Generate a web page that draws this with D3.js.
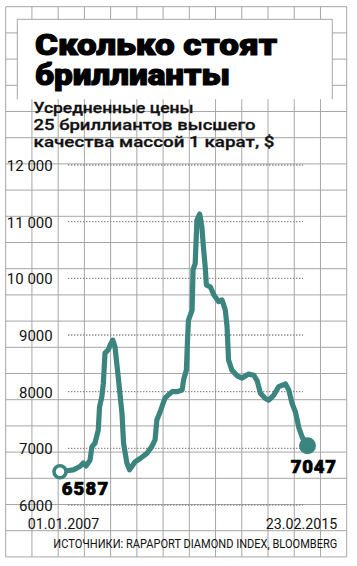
<!DOCTYPE html>
<html>
<head>
<meta charset="utf-8">
<script src="https://cdn.jsdelivr.net/npm/d3@7"></script>
<style>
  html, body { margin: 0; padding: 0; background: #fff; }
  svg { display: block; }
  text { font-family: Roboto, "DejaVu Sans", sans-serif; }
</style>
</head>
<body>
<script>
// ---- data ----
const titleLines = ["Сколько стоят", "бриллианты"];
const subtitleLines = ["Усредненные цены", "25 бриллиантов высшего", "качества массой 1 карат, $"];
const sourceText = "ИСТОЧНИКИ: RAPAPORT DIAMOND INDEX, BLOOMBERG";
const yTicks = [6000, 7000, 8000, 9000, 10000, 11000, 12000];
const xTickLabels = ["01.01.2007", "23.02.2015"];
const dates = [
  "2007-01-01","2007-03-01","2007-06-10","2007-08-28","2007-10-08","2007-11-10","2007-12-28",
  "2008-01-20","2008-02-25","2008-04-05","2008-04-20","2008-05-18","2008-06-05","2008-06-25",
  "2008-08-04","2008-08-25","2008-09-27","2008-10-23","2008-12-01","2009-01-15","2009-02-03",
  "2009-03-15","2009-04-16","2009-06-20","2009-08-22","2009-11-10","2010-01-08","2010-02-17",
  "2010-03-10","2010-04-20","2010-06-17","2010-09-10","2010-11-06","2011-01-08","2011-01-26",
  "2011-02-28","2011-03-14","2011-03-25","2011-05-08","2011-05-19","2011-06-14","2011-07-05",
  "2011-08-07","2011-09-02","2011-09-24","2011-10-12","2011-10-27","2011-12-13","2012-01-23",
  "2012-03-21","2012-05-01","2012-06-10","2012-07-01","2012-07-19","2012-08-28","2012-10-30",
  "2012-12-28","2013-03-18","2013-05-19","2013-06-28","2013-08-07","2013-10-05","2013-11-14",
  "2014-01-15","2014-03-14","2014-06-03","2014-07-13","2014-08-22","2014-10-01","2014-11-10",
  "2014-12-20","2015-02-23"
];
const prices = [
  6587,6600,6620,6680,6740,6690,6790,
  7030,7090,7320,7730,7910,8150,8680,
  8740,8820,8910,8790,8260,7620,7090,
  6740,6620,6760,6820,6910,7030,7150,
  7500,7650,7890,8000,8000,8030,8210,
  8380,8910,9260,9440,10150,10260,11030,
  11135,10910,10500,10210,9880,9850,9710,
  9590,9620,9440,9150,8560,8380,8280,
  8240,8310,8290,8190,7970,7880,7850,
  7940,8090,8135,8030,7790,7640,7370,
  7200,7047
];

// ---- setup ----
const W = 357, H = 566;
const teal = "#3c847e";
const parse = d3.timeParse("%Y-%m-%d");
const data = dates.map((d, i) => ({ date: parse(d), value: prices[i] }));

const svg = d3.select("body").append("svg").attr("width", W).attr("height", H);

// graph-paper background
const gx0 = 5.7, gx1 = 346.7, gy0 = 6.7, gy1 = 556.9;
const nCols = 13, nRows = 21;
const grid = svg.append("g").attr("stroke", "#a6a6a6").attr("stroke-width", 1);
d3.range(nCols + 1).forEach(i => {
  const xx = gx0 + (gx1 - gx0) * i / nCols;
  grid.append("line").attr("x1", xx).attr("x2", xx).attr("y1", gy0).attr("y2", gy1);
});
d3.range(nRows + 1).forEach(i => {
  const yy = gy0 + (gy1 - gy0) * i / nRows;
  grid.append("line").attr("x1", gx0).attr("x2", gx1).attr("y1", yy).attr("y2", yy);
});

// title box
svg.append("rect").attr("x", 17.3).attr("y", 19.3).attr("width", 315).attr("height", 80)
  .attr("fill", "#fff");
svg.append("path").attr("d", "M17.3,99.3V19.3H332.3V99.3")
  .attr("fill", "none").attr("stroke", "#a6a6a6").attr("stroke-width", 1);

const titleY = [55, 85], titleW = [242, 195];
titleLines.forEach((t, i) => {
  svg.append("text").attr("x", 35).attr("y", titleY[i])
    .attr("font-size", 30).attr("font-weight", 900).attr("fill", "#000")
    .attr("stroke", "#000").attr("stroke-width", 1.1).attr("stroke-linejoin", "round")
    .attr("textLength", titleW[i]).attr("lengthAdjust", "spacingAndGlyphs")
    .text(t);
});
const subY = [112.5, 129.5, 146.5], subW = [160, 222, 241];
subtitleLines.forEach((t, i) => {
  svg.append("text").attr("x", 33.5).attr("y", subY[i])
    .attr("font-size", 15.5).attr("font-weight", 500).attr("fill", "#111")
    .attr("stroke", "#111").attr("stroke-width", 0.3)
    .attr("textLength", subW[i]).attr("lengthAdjust", "spacingAndGlyphs")
    .text(t);
});

// scales
const x = d3.scaleTime()
  .domain([parse("2007-01-01"), parse("2015-02-23")])
  .range([60, 307.5]);
const y = d3.scaleLinear().domain([6000, 12000]).range([505, 165]);

// dotted horizontal gridlines
svg.append("g").selectAll("line").data(yTicks).join("line")
  .attr("x1", 68).attr("x2", 303)
  .attr("y1", d => y(d)).attr("y2", d => y(d))
  .attr("stroke", "#8a8a8a").attr("stroke-width", 1.4)
  .attr("stroke-dasharray", "1.4 1.6");

// y axis labels
const yAxis = d3.axisLeft(y).tickValues(yTicks).tickSize(0).tickPadding(0)
  .tickFormat(d => d >= 10000 ? String(d).slice(0, 2) + " " + String(d).slice(2) : String(d));
const ya = svg.append("g").attr("transform", "translate(52.7,0)").call(yAxis);
ya.select(".domain").remove();
ya.selectAll("text").attr("font-size", 15).attr("fill", "#111")
  .attr("font-family", "Roboto, sans-serif").attr("dy", "0.36em");

// x axis labels (first and last date)
svg.append("text").attr("x", 27.7).attr("y", 529).attr("font-size", 14.5).attr("fill", "#111")
  .attr("textLength", 71.5).attr("lengthAdjust", "spacingAndGlyphs")
  .text(xTickLabels[0]);
svg.append("text").attr("x", 265.8).attr("y", 529).attr("font-size", 14.5).attr("fill", "#111")
  .attr("textLength", 71.5).attr("lengthAdjust", "spacingAndGlyphs")
  .text(xTickLabels[1]);

// source
svg.append("text").attr("x", 53.3).attr("y", 548.3).attr("font-size", 12.5).attr("fill", "#111")
  .attr("textLength", 284).attr("lengthAdjust", "spacingAndGlyphs").text(sourceText);

// line
const line = d3.line().x(d => x(d.date)).y(d => y(d.value));
svg.append("path").datum(data).attr("d", line)
  .attr("fill", "none").attr("stroke", teal).attr("stroke-width", 5.2)
  .attr("stroke-linejoin", "round").attr("stroke-linecap", "round");

// endpoints
const first = data[0], last = data[data.length - 1];
svg.append("circle").attr("cx", x(first.date)).attr("cy", y(first.value)).attr("r", 6)
  .attr("fill", "#fff").attr("stroke", teal).attr("stroke-width", 3.6);
svg.append("circle").attr("cx", x(last.date)).attr("cy", y(last.value)).attr("r", 8.5)
  .attr("fill", teal);

// value labels
svg.append("text").attr("x", 61.7).attr("y", 495).attr("font-size", 18.5).attr("font-weight", 900)
  .attr("fill", "#000").attr("stroke", "#000").attr("stroke-width", 0.7)
  .attr("textLength", 46.5).attr("lengthAdjust", "spacing")
  .text(String(first.value));
svg.append("text").attr("x", 290.7).attr("y", 472.7).attr("font-size", 18.5).attr("font-weight", 900)
  .attr("fill", "#000").attr("stroke", "#000").attr("stroke-width", 0.7)
  .attr("textLength", 45.3).attr("lengthAdjust", "spacing")
  .text(String(last.value));
</script>
</body>
</html>
